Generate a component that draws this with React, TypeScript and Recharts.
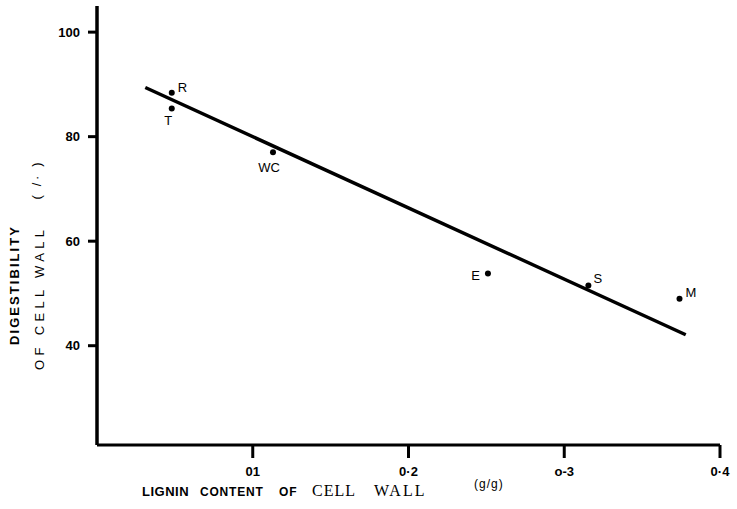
import { ScatterChart, Scatter, XAxis, YAxis, Label } from "recharts";

const species = ["R", "T", "WC", "E", "S", "M"];
const lignin = [0.048, 0.048, 0.113, 0.251, 0.3155, 0.374];
const digestibility = [88.4, 85.4, 77.0, 53.8, 51.5, 49.0];

const fitLignin = [0.031, 0.378];
const fitDigestibility = [89.4, 42.1];

const xTicks = [0.1, 0.2, 0.3, 0.4];
const xTickLabels = ["01", "0·2", "o-3", "0·4"];
const yTicks = [40, 60, 80, 100];

const points = species.map((name, i) => ({ name, x: lignin[i], y: digestibility[i] }));
const fit = fitLignin.map((x, i) => ({ x, y: fitDigestibility[i] }));

// where each letter sits relative to its dot
const labelPos: Record<string, [number, number, string]> = {
  R: [6, -1, "start"],
  T: [-3.5, 17, "middle"],
  WC: [-4, 20, "middle"],
  E: [-8, 6, "end"],
  S: [5, -3, "start"],
  M: [6, -2, "start"],
};

const sans = "'Liberation Sans', Arial, sans-serif";
const serif = "'Liberation Serif', 'Times New Roman', serif";

function PointShape(props: any) {
  const { cx, cy, payload } = props;
  const [dx, dy, anchor] = labelPos[payload.name];
  return (
    <g>
      <circle cx={cx} cy={cy} r={3} fill="#000" />
      <text x={cx + dx} y={cy + dy} textAnchor={anchor} fontSize={13} fontFamily={sans} fill="#000">
        {payload.name}
      </text>
    </g>
  );
}

function XTitle() {
  const y = 496;
  return (
    <g>
      <text x={142} y={y} fill="#000" fontSize={13} fontWeight={700} fontFamily={sans} letterSpacing={0.5}>
        LIGNIN
      </text>
      <text x={200} y={y} fill="#000" fontSize={12} fontWeight={700} fontFamily={sans} letterSpacing={0.8}>
        CONTENT
      </text>
      <text x={279} y={y} fill="#000" fontSize={12} fontWeight={700} fontFamily={sans} letterSpacing={0.8}>
        OF
      </text>
      <text x={312} y={y} fill="#000" fontSize={16} fontFamily={serif} letterSpacing={1}>
        CELL
      </text>
      <text x={374} y={y} fill="#000" fontSize={16} fontFamily={serif} letterSpacing={2}>
        WALL
      </text>
      <text x={474} y={y - 8} fill="#000" fontSize={12} fontFamily={sans} letterSpacing={1}>
        (g/g)
      </text>
    </g>
  );
}

function YTitle() {
  return (
    <g>
      <text
        transform="translate(19, 286) rotate(-90)"
        textAnchor="middle"
        fill="#000"
        fontSize={13}
        fontWeight={700}
        fontFamily={sans}
        textLength={118}
        lengthAdjust="spacing"
      >
        DIGESTIBILITY
      </text>
      <text
        transform="translate(44, 300) rotate(-90)"
        textAnchor="middle"
        fill="#000"
        fontSize={13}
        fontFamily={sans}
        textLength={140}
        lengthAdjust="spacing"
      >
        OF CELL WALL
      </text>
      <text
        transform="translate(41, 181) rotate(-90)"
        textAnchor="middle"
        fill="#000"
        fontSize={13}
        fontFamily={sans}
        textLength={37}
        lengthAdjust="spacing"
      >
        ( /· )
      </text>
    </g>
  );
}

export default function App() {
  return (
    <div style={{ position: "absolute", left: 0, top: 0, background: "#fff" }}>
      <ScatterChart width={737} height={509} margin={{ top: 6, right: 17, bottom: 24, left: 37 }}>
        <XAxis
          type="number"
          dataKey="x"
          domain={[0, 0.4]}
          ticks={xTicks}
          tickFormatter={(v: number) => xTickLabels[xTicks.indexOf(v)] ?? ""}
          height={40}
          axisLine={{ stroke: "#000", strokeWidth: 3 }}
          tickLine={{ stroke: "#000", strokeWidth: 3 }}
          tickSize={13}
          tickMargin={9}
          tick={{ fill: "#000", fontSize: 13, fontWeight: 700, fontFamily: sans }}
          allowDataOverflow
        >
          <Label content={XTitle} />
        </XAxis>
        <YAxis
          type="number"
          dataKey="y"
          domain={[21, 105]}
          ticks={yTicks}
          width={60}
          axisLine={{ stroke: "#000", strokeWidth: 3.5 }}
          tickLine={{ stroke: "#000", strokeWidth: 3 }}
          tickSize={9}
          tickMargin={8}
          tick={{ fill: "#000", fontSize: 13, fontWeight: 700, fontFamily: sans }}
          allowDataOverflow
        >
          <Label content={YTitle} />
        </YAxis>
        <Scatter
          data={fit}
          line={{ stroke: "#000", strokeWidth: 3.5 }}
          shape={() => <g />}
          isAnimationActive={false}
        />
        <Scatter data={points} shape={PointShape} isAnimationActive={false} />
      </ScatterChart>
    </div>
  );
}
